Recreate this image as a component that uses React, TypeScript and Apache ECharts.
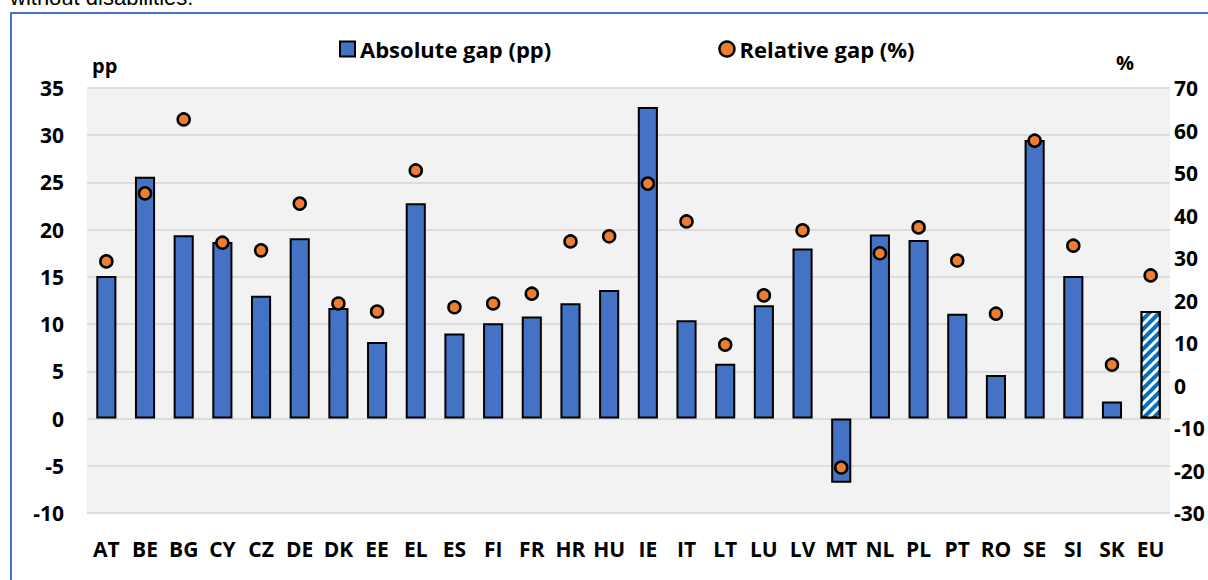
import React, { useEffect, useRef } from "react";
import * as echarts from "echarts";

const categories = ["AT","BE","BG","CY","CZ","DE","DK","EE","EL","ES","FI","FR","HR","HU","IE","IT","LT","LU","LV","MT","NL","PL","PT","RO","SE","SI","SK","EU"];
const absoluteGap = [15.1,25.6,19.4,18.7,13.0,19.1,11.7,8.1,22.8,9.0,10.1,10.8,12.2,13.6,33.0,10.4,5.8,12.0,18.0,-6.8,19.5,18.9,11.1,4.6,29.5,15.1,1.8,11.4];
const relativeGap = [29.2,45.2,62.6,33.6,31.8,42.8,19.3,17.4,50.6,18.4,19.3,21.6,33.9,35.1,47.5,38.6,9.6,21.2,36.5,-19.3,31.1,37.2,29.4,16.9,57.6,32.9,4.9,25.9];

const FONT = "'Open Sans', 'Noto Sans', sans-serif";

export default function App() {
  const ref = useRef<HTMLDivElement>(null);
  useEffect(() => {
    document.body.style.margin = "0";
    const chart = echarts.init(ref.current!, null, { renderer: "svg" });
    const barData = absoluteGap.map((v, i) =>
      categories[i] === "EU"
        ? {
            value: v,
            itemStyle: {
              color: "#0070C0",
              borderColor: "#000",
              borderWidth: 2,
              decal: {
                symbol: "rect",
                color: "#ffffff",
                dashArrayX: [1, 0],
                dashArrayY: [3, 4],
                symbolSize: 1,
                rotation: -Math.PI / 4,
              },
            },
          }
        : v
    );
    chart.setOption({
      animation: false,
      backgroundColor: "#ffffff",
      textStyle: { fontFamily: FONT },
      graphic: [
        {
          type: "text",
          left: 10,
          top: -14,
          style: { text: "without disabilities.", font: "22px 'Liberation Sans', Arial, sans-serif", fill: "#000" },
        },
        {
          type: "rect",
          shape: { x: 11, y: 13, width: 1210, height: 600 },
          style: { fill: "none", stroke: "#4472C4", lineWidth: 2 },
          silent: true,
        },
        {
          type: "text",
          left: 92,
          top: 55,
          style: { text: "pp", font: `bold 20px ${FONT}`, fill: "#000" },
        },
        {
          type: "text",
          left: 1116,
          top: 52,
          style: { text: "%", font: `bold 20px ${FONT}`, fill: "#000" },
        },
      ],
      legend: {
        top: 33,
        left: 334,
        itemGap: 167,
        itemWidth: 15,
        itemHeight: 15,
        textStyle: { fontFamily: FONT, fontWeight: "bold", fontSize: 22, color: "#000" },
        data: [
          { name: "Absolute gap (pp)", icon: "rect", itemStyle: { color: "#4472C4", borderColor: "#000", borderWidth: 2 } },
          { name: "Relative gap (%)", icon: "circle", itemStyle: { color: "#ED7D31", borderColor: "#000", borderWidth: 2.5 } },
        ],
      },
      grid: {
        left: 87,
        right: 38,
        top: 88,
        bottom: 67,
        show: true,
        backgroundColor: "#f2f2f2",
        borderWidth: 0,
      },
      xAxis: {
        type: "category",
        data: categories,
        position: "bottom",
        axisLine: { show: false, onZero: false },
        axisTick: { show: false },
        axisLabel: { color: "#000", fontWeight: "bold", fontSize: 21, margin: 25, fontFamily: FONT, interval: 0 },
      },
      yAxis: [
        {
          type: "value",
          min: -10,
          max: 35,
          interval: 5,
          axisLine: { show: false },
          axisTick: { show: false },
          axisLabel: { color: "#000", fontWeight: "bold", fontSize: 21, margin: 23, fontFamily: FONT },
          splitLine: { lineStyle: { color: "#d4d4d4", width: 1.5 } },
        },
        {
          type: "value",
          min: -30,
          max: 70,
          interval: 10,
          position: "right",
          axisLine: { show: false },
          axisTick: { show: false },
          axisLabel: { color: "#000", fontWeight: "bold", fontSize: 21, margin: 4, fontFamily: FONT },
          splitLine: { show: false },
        },
      ],
      series: [
        {
          name: "Absolute gap (pp)",
          type: "bar",
          yAxisIndex: 0,
          barWidth: "52%",
          data: barData,
          itemStyle: { color: "#4472C4", borderColor: "#000", borderWidth: 2 },
        },
        {
          name: "Relative gap (%)",
          type: "scatter",
          yAxisIndex: 1,
          data: relativeGap,
          symbol: "circle",
          symbolSize: 12,
          itemStyle: { color: "#ED7D31", borderColor: "#000", borderWidth: 2.5, opacity: 1 },
          z: 5,
        },
      ],
    });
    return () => chart.dispose();
  }, []);
  return <div ref={ref} style={{ width: 1208, height: 580 }} />;
}
